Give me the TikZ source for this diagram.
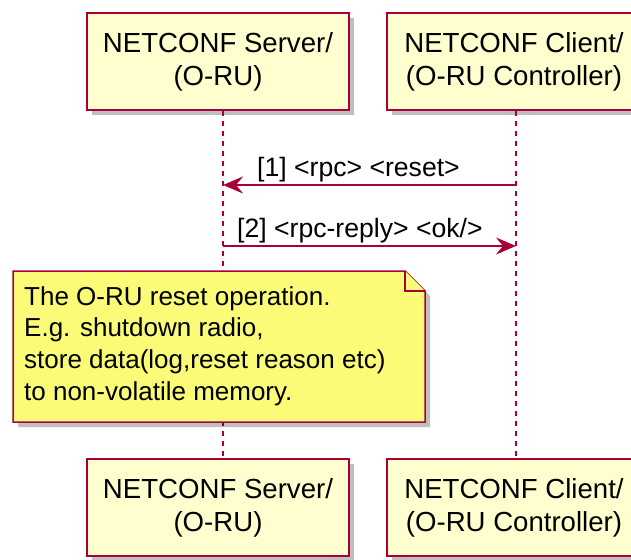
\documentclass[tikz,border=0pt]{standalone}
\usepackage{fontspec}
\setmainfont{Liberation Sans}
\usetikzlibrary{arrows.meta,shadows}
\definecolor{umlred}{HTML}{A80036}
\definecolor{umlbox}{HTML}{FEFECE}
\definecolor{umlnote}{HTML}{FBFB77}
\tikzset{
  party/.style={draw=umlred, fill=umlbox, line width=1.5pt, minimum height=97pt,
    align=center, font=\fontsize{27.6}{33}\selectfont,
    drop shadow={shadow xshift=5pt, shadow yshift=-5pt, fill=black, opacity=0.25}},
  lifeline/.style={umlred, line width=1.5pt, dash pattern=on 5pt off 5pt},
  msg/.style={umlred, line width=1.5pt, -{Stealth[length=20pt, width=17pt, inset=7pt]}},
  msglabel/.style={anchor=base west, inner sep=0pt, font=\fontsize{26.6}{31}\selectfont},
  notebox/.style={draw=umlred, fill=umlnote, line width=1.5pt, line join=miter},
}
\begin{document}
\begin{tikzpicture}[x=1pt, y=-1pt]
   \useasboundingbox (0,0) rectangle (631,559);
   \clip (0,0) rectangle (631,559);
   % participants
   \node[party, minimum width=262pt] (srvtop) at (218,61.5) {NETCONF Server/\\(O-RU)};
   \node[party, minimum width=254pt] (clitop) at (514,61.5) {NETCONF Client/\\(O-RU Controller)};
   \node[party, minimum width=262pt] (srvbot) at (218,507.5) {NETCONF Server/\\(O-RU)};
   \node[party, minimum width=254pt] (clibot) at (514,507.5) {NETCONF Client/\\(O-RU Controller)};
   % lifelines
   \draw[lifeline] ([xshift=5pt]srvtop.south) -- ([xshift=5pt]srvbot.north);
   \draw[lifeline] ([xshift=2pt]clitop.south) -- ([xshift=2pt]clibot.north);
   % messages
   \coordinate (cli1) at (516,185);
   \coordinate (srv1) at (223,185);
   \coordinate (srv2) at (223,246);
   \coordinate (cli2) at (516,246);
   \draw[msg] (cli1) -- (srv1);
   \node[msglabel] (lbl1) at (257,176) {[1] <rpc> <reset>};
   \draw[msg] (srv2) -- (cli2);
   \node[msglabel] (lbl2) at (237,237) {[2] <rpc-reply> <ok/>};
   % note
   \fill[black, opacity=0.25] (18,276) -- (410,276) -- (430,296) -- (430,427) -- (18,427) -- cycle;
   \draw[notebox] (13,271) -- (405,271) -- (425,291) -- (425,422) -- (13,422) -- cycle;
   \draw[notebox] (405,271) -- (405,291) -- (425,291);
   \node[anchor=west, align=left, inner sep=0pt, font=\fontsize{26}{31.7}\selectfont] (note) at (24,346)
     {The O-RU reset operation.\\E.g. shutdown radio,\\store data(log,reset reason etc)\\to non-volatile memory.};
 \end{tikzpicture}
\end{document}
